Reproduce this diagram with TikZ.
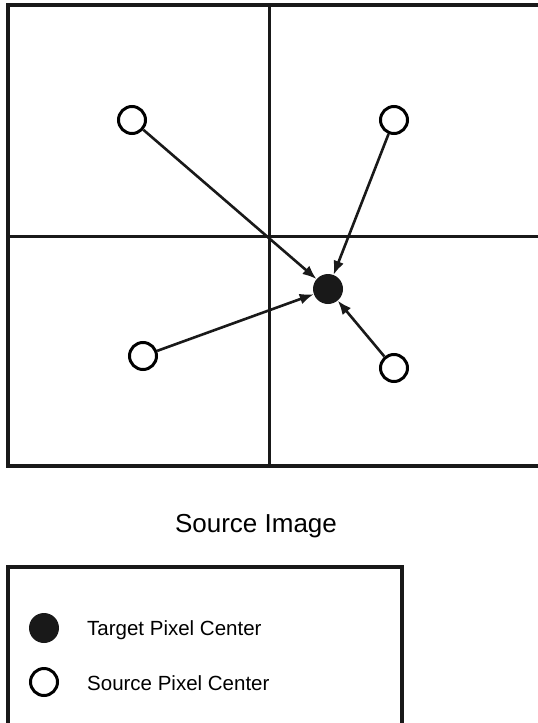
\documentclass[tikz,border=0pt]{standalone}
\usepackage{fontspec}
\setmainfont{Liberation Sans}
\usetikzlibrary{arrows.meta}

\tikzset{
  srcpix/.style={circle,draw,line width=3pt,fill=white,minimum size=27pt,inner sep=0pt},
  tgtpix/.style={circle,fill=black!90,minimum size=30pt,inner sep=0pt},
  pull/.style={line width=2.6pt,->,draw=black!90}
}

\begin{document}
\begin{tikzpicture}[x=1pt,y=-1pt,>={Latex[length=14pt,width=11pt]}]
    \useasboundingbox (0,0) rectangle (538,723);
    % grid of the source image
    \draw[line width=3.6pt,black!90] (8,5) rectangle (548,466);
    \draw[line width=3pt,black!90] (269,5) -- (269,466);
    \draw[line width=3pt,black!90] (8,236) -- (548,236);
    % pixel centres
    \node[tgtpix] (t) at (328,289) {};
    \node[srcpix] (s1) at (132,120) {};
    \node[srcpix] (s2) at (394,120) {};
    \node[srcpix] (s3) at (143,356) {};
    \node[srcpix] (s4) at (394,368) {};
    \draw[pull] (s1) -- (t);
    \draw[pull] (s2) -- (t);
    \draw[pull] (s3) -- (t);
    \draw[pull] (s4) -- (t);
    \node[anchor=base,font=\fontsize{26}{30}\selectfont] (title) at (256,532) {Source Image};
    % legend
    \draw[line width=3.4pt,black!90] (8,567) rectangle (402,730);
    \node[tgtpix] (ktgt) at (44,628) {};
    \node[srcpix] (ksrc) at (44,682) {};
    \node[anchor=base west,font=\fontsize{20.5}{23}\selectfont,inner sep=0pt] (ltgt) at (87,635) {Target Pixel Center};
    \node[anchor=base west,font=\fontsize{20.5}{23}\selectfont,inner sep=0pt] (lsrc) at (87,690) {Source Pixel Center};
\end{tikzpicture}
\end{document}
